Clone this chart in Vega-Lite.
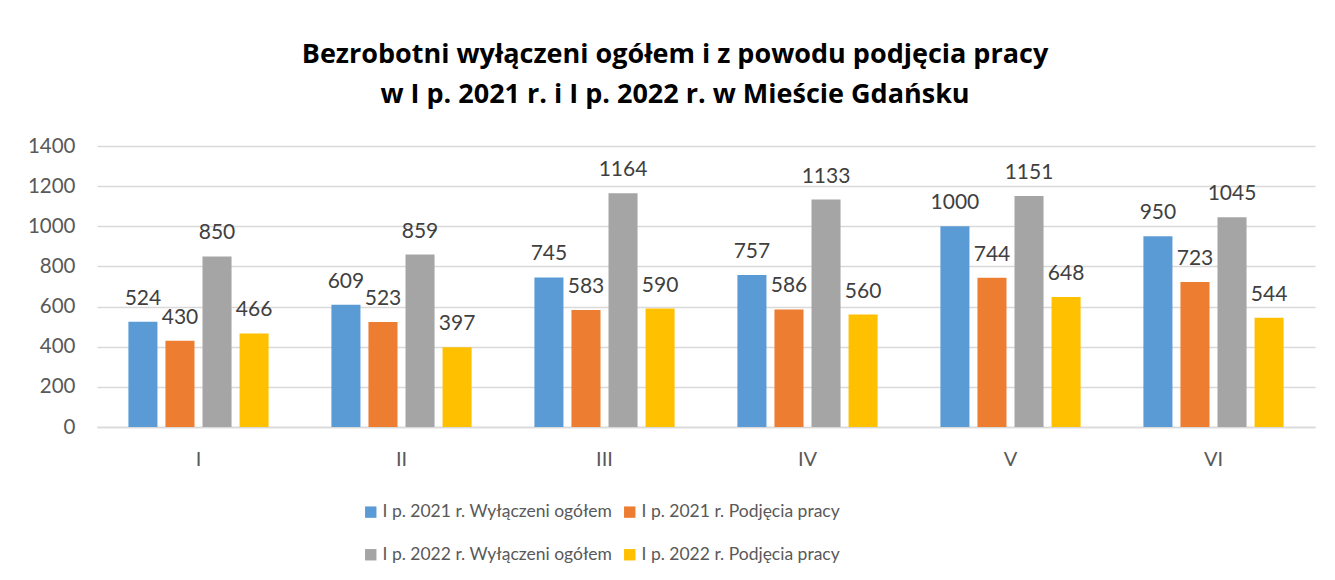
{
  "$schema": "https://vega.github.io/schema/vega-lite/v6.json",
  "width": 1218,
  "height": 281,
  "autosize": {"type": "none"},
  "padding": {"left": 97, "top": 146, "right": 20, "bottom": 153},
  "background": "white",
  "title": {
    "text": ["Bezrobotni wyłączeni ogółem i z powodu podjęcia pracy", "w I p. 2021 r. i I p. 2022 r. w Mieście Gdańsku"],
    "font": "Open Sans",
    "fontSize": 27,
    "fontWeight": "bold",
    "color": "#000000",
    "lineHeight": 40,
    "anchor": "middle",
    "frame": "group",
    "dx": -31,
    "offset": 27
  },
  "data": {
    "values": [
      {"m": "I", "s": "I p. 2021 r. Wyłączeni ogółem", "v": 524},
      {"m": "I", "s": "I p. 2021 r. Podjęcia pracy", "v": 430},
      {"m": "I", "s": "I p. 2022 r. Wyłączeni ogółem", "v": 850},
      {"m": "I", "s": "I p. 2022 r. Podjęcia pracy", "v": 466},
      {"m": "II", "s": "I p. 2021 r. Wyłączeni ogółem", "v": 609},
      {"m": "II", "s": "I p. 2021 r. Podjęcia pracy", "v": 523},
      {"m": "II", "s": "I p. 2022 r. Wyłączeni ogółem", "v": 859},
      {"m": "II", "s": "I p. 2022 r. Podjęcia pracy", "v": 397},
      {"m": "III", "s": "I p. 2021 r. Wyłączeni ogółem", "v": 745},
      {"m": "III", "s": "I p. 2021 r. Podjęcia pracy", "v": 583},
      {"m": "III", "s": "I p. 2022 r. Wyłączeni ogółem", "v": 1164},
      {"m": "III", "s": "I p. 2022 r. Podjęcia pracy", "v": 590},
      {"m": "IV", "s": "I p. 2021 r. Wyłączeni ogółem", "v": 757},
      {"m": "IV", "s": "I p. 2021 r. Podjęcia pracy", "v": 586},
      {"m": "IV", "s": "I p. 2022 r. Wyłączeni ogółem", "v": 1133},
      {"m": "IV", "s": "I p. 2022 r. Podjęcia pracy", "v": 560},
      {"m": "V", "s": "I p. 2021 r. Wyłączeni ogółem", "v": 1000},
      {"m": "V", "s": "I p. 2021 r. Podjęcia pracy", "v": 744},
      {"m": "V", "s": "I p. 2022 r. Wyłączeni ogółem", "v": 1151},
      {"m": "V", "s": "I p. 2022 r. Podjęcia pracy", "v": 648},
      {"m": "VI", "s": "I p. 2021 r. Wyłączeni ogółem", "v": 950},
      {"m": "VI", "s": "I p. 2021 r. Podjęcia pracy", "v": 723},
      {"m": "VI", "s": "I p. 2022 r. Wyłączeni ogółem", "v": 1045},
      {"m": "VI", "s": "I p. 2022 r. Podjęcia pracy", "v": 544}
    ]
  },
  "encoding": {
    "x": {
      "field": "m", "type": "nominal", "sort": ["I", "II", "III", "IV", "V", "VI"],
      "scale": {"paddingInner": 0.27, "paddingOuter": 0.135},
      "axis": {"title": null, "labelAngle": 0, "ticks": false, "domain": true, "domainColor": "#d9d9d9", "domainWidth": 1.5, "labelPadding": 22, "labelFontSize": 20, "labelColor": "#595959", "labelFont": "Lato"}
    },
    "xOffset": {
      "field": "s", "type": "nominal",
      "sort": ["I p. 2021 r. Wyłączeni ogółem", "I p. 2021 r. Podjęcia pracy", "I p. 2022 r. Wyłączeni ogółem", "I p. 2022 r. Podjęcia pracy"],
      "scale": {"paddingInner": 0.216, "paddingOuter": 0.108}
    },
    "y": {
      "field": "v", "type": "quantitative",
      "scale": {"domain": [0, 1400]},
      "axis": {"title": null, "values": [0, 200, 400, 600, 800, 1000, 1200, 1400], "format": "d", "ticks": false, "domain": false, "grid": true, "gridColor": "#d9d9d9", "gridWidth": 1.5, "labelPadding": 22, "labelFontSize": 20.5, "labelColor": "#595959", "labelFont": "Lato"}
    }
  },
  "layer": [
    {
      "mark": {"type": "bar"},
      "encoding": {
        "color": {
          "field": "s", "type": "nominal",
          "scale": {
            "domain": ["I p. 2021 r. Wyłączeni ogółem", "I p. 2021 r. Podjęcia pracy", "I p. 2022 r. Wyłączeni ogółem", "I p. 2022 r. Podjęcia pracy"],
            "range": ["#5b9bd5", "#ed7d31", "#a5a5a5", "#ffc000"]
          },
          "legend": {
            "title": null,
            "orient": "none",
            "legendX": 265,
            "legendY": 357,
            "direction": "horizontal",
            "columns": 2,
            "columnPadding": 8,
            "rowPadding": 24,
            "symbolType": "square",
            "symbolSize": 130,
            "symbolStrokeWidth": 0,
            "labelOffset": 3,
            "labelFontSize": 17.5,
            "labelColor": "#595959",
            "labelFont": "Lato",
            "labelLimit": 400
          }
        }
      }
    },
    {
      "mark": {"type": "text", "baseline": "bottom", "dy": -13, "fontSize": 21, "font": "Lato", "color": "#404040"},
      "encoding": {
        "text": {"field": "v", "type": "quantitative"}
      }
    }
  ],
  "config": {"view": {"stroke": null}}
}
